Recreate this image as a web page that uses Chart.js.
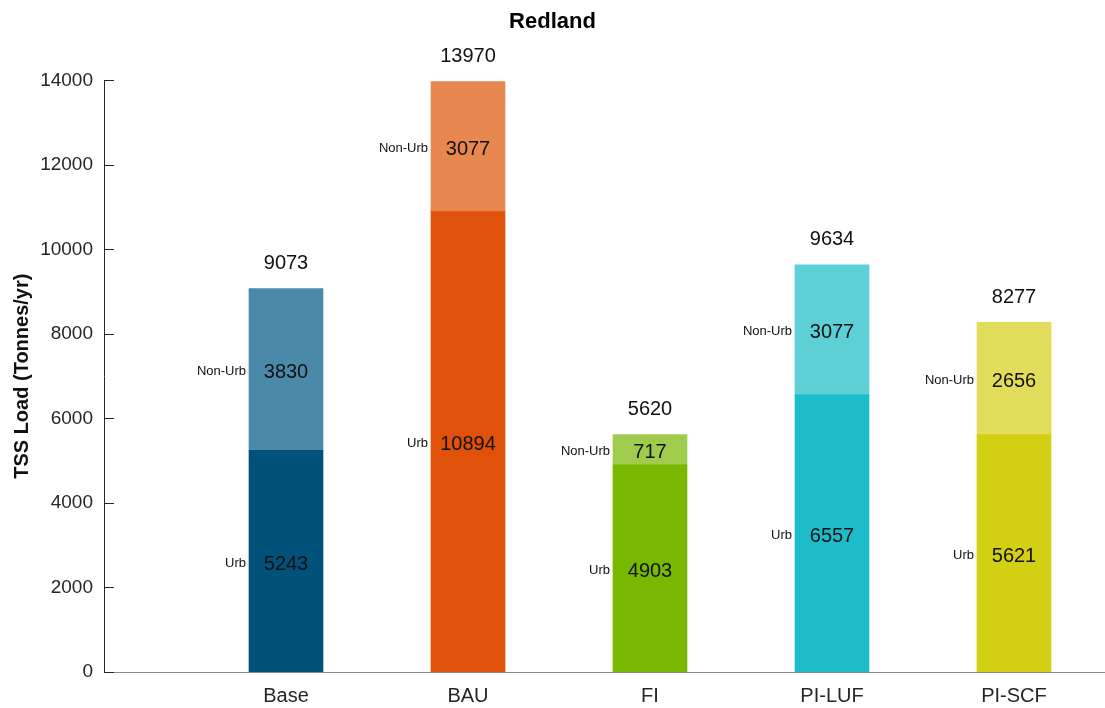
<!DOCTYPE html>
<html><head><meta charset="utf-8">
<script src="https://cdn.jsdelivr.net/npm/chart.js@4.4.1/dist/chart.umd.min.js"></script>
<style>html,body{margin:0;padding:0;background:#fff}#wrap{width:1105px;height:708px}</style>
</head><body><div id="wrap"><canvas id="c" width="1105" height="708"></canvas></div>
<script>
const categories = ['Base', 'BAU', 'FI', 'PI-LUF', 'PI-SCF'];
const urbValues = [5243, 10894, 4903, 6557, 5621];
const nonUrbValues = [3830, 3077, 717, 3077, 2656];
const totalValues = [9073, 13970, 5620, 9634, 8277];
const seriesNames = ['Urb', 'Non-Urb'];
const yTickValues = [0, 2000, 4000, 6000, 8000, 10000, 12000, 14000];

const urbColors = ['#00527b', '#e0520a', '#78b800', '#1dbccb', '#d3cf12'];
const nonUrbColors = ['#4a89a8', '#e8874f', '#a0cc4e', '#5dd0d6', '#e1dd5b'];
const FONT = '"Liberation Sans", Arial, sans-serif';

const labelPlugin = {
  id: 'barLabels',
  afterDatasetsDraw(chart) {
    const ctx = chart.ctx;
    ctx.save();
    chart.data.datasets.forEach((ds, di) => {
      const meta = chart.getDatasetMeta(di);
      meta.data.forEach((bar, i) => {
        const p = bar.getProps(['x', 'y', 'base', 'width'], true);
        const cy = (p.y + p.base) / 2;
        ctx.fillStyle = '#111';
        ctx.textBaseline = 'middle';
        ctx.textAlign = 'center';
        ctx.font = '20px ' + FONT;
        ctx.fillText(String(ds.data[i].y), p.x, cy + 3);
        ctx.textAlign = 'right';
        ctx.font = '13px ' + FONT;
        ctx.fillText(ds.label, p.x - p.width / 2 - 3, cy + 2);
      });
    });
    const topMeta = chart.getDatasetMeta(chart.data.datasets.length - 1);
    topMeta.data.forEach((bar, i) => {
      ctx.textAlign = 'center';
      ctx.textBaseline = 'middle';
      ctx.font = '20px ' + FONT;
      ctx.fillStyle = '#111';
      ctx.fillText(String(totalValues[i]), bar.x, bar.y - 25);
    });
    const ys = chart.scales.y;
    ctx.strokeStyle = '#262626';
    ctx.lineWidth = 1;
    ys.ticks.forEach(t => {
      const py = Math.round(ys.getPixelForValue(t.value)) + 0.5;
      ctx.beginPath();
      ctx.moveTo(chart.chartArea.left, py);
      ctx.lineTo(chart.chartArea.left + 10, py);
      ctx.stroke();
    });
    ctx.restore();
  }
};

const makeData = vals => vals.map((v, i) => ({ x: i + 1, y: v }));

new Chart(document.getElementById('c'), {
  type: 'bar',
  data: {
    datasets: [
      { label: seriesNames[0], data: makeData(urbValues), backgroundColor: urbColors, barThickness: 74, borderWidth: 0 },
      { label: seriesNames[1], data: makeData(nonUrbValues), backgroundColor: nonUrbColors, barThickness: 74, borderWidth: 0 }
    ]
  },
  options: {
    responsive: false,
    animation: false,
    layout: { padding: { left: 0, right: 0, top: 0, bottom: 0 } },
    plugins: {
      legend: { display: false },
      tooltip: { enabled: false },
      title: {
        display: true,
        text: 'Redland',
        color: '#000',
        font: { family: FONT, size: 22, weight: 'bold' },
        padding: { top: 9, bottom: 45 }
      }
    },
    scales: {
      x: {
        type: 'linear',
        stacked: true,
        min: 0,
        max: 5.5,
        offset: false,
        grid: { display: false, drawTicks: false },
        border: { display: true, color: '#8c8c8c', width: 1 },
        afterBuildTicks: s => { s.ticks = categories.map((c, i) => ({ value: i + 1 })); },
        ticks: {
          autoSkip: false,
          maxRotation: 0,
          padding: 12,
          color: '#262626',
          font: { family: FONT, size: 20 },
          callback: v => (Number.isInteger(v) && v >= 1 && v <= categories.length) ? categories[v - 1] : ''
        },
        afterFit: s => { s.height = 36; }
      },
      y: {
        stacked: true,
        min: 0,
        max: 14000,
        grid: { display: false, drawTicks: false },
        border: { display: true, color: '#262626', width: 1 },
        afterBuildTicks: s => { s.ticks = yTickValues.map(v => ({ value: v })); },
        ticks: {
          padding: 11,
          color: '#262626',
          font: { family: FONT, size: 19 },
          callback: v => String(v)
        },
        title: {
          display: true,
          text: 'TSS Load (Tonnes/yr)',
          color: '#111',
          font: { family: FONT, size: 20, weight: 'bold' },
          padding: { top: 10, bottom: 0 }
        },
        afterFit: s => { s.width = 104; }
      }
    }
  },
  plugins: [labelPlugin]
});
</script>
</body></html>
